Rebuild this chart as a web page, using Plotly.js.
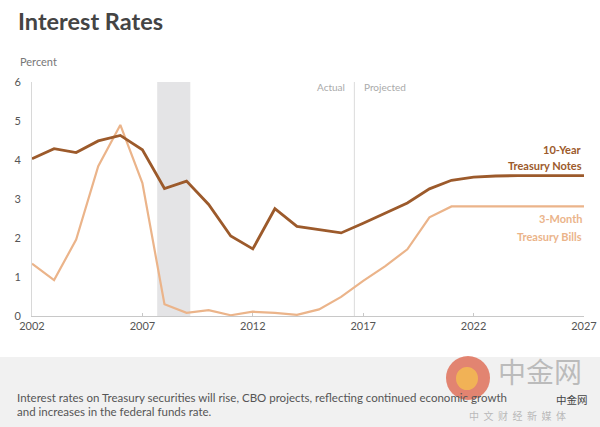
<!DOCTYPE html>
<html>
<head>
<meta charset="utf-8">
<script src="https://cdn.plot.ly/plotly-3.0.1.min.js"></script>
<style>
html,body{margin:0;padding:0;background:#fff;}
#chart{width:600px;height:427px;}
</style>
</head>
<body>
<div id="chart"></div>
<script>
// ---- data ----
var years = [2002,2003,2004,2005,2006,2007,2008,2009,2010,2011,2012,2013,2014,2015,2016,2017,2018,2019,2020,2021,2022,2023,2024,2025,2026,2027];
var tenYear = [4.03,4.29,4.19,4.49,4.63,4.26,3.27,3.46,2.86,2.05,1.72,2.75,2.30,2.21,2.13,2.38,2.63,2.90,3.26,3.48,3.56,3.59,3.60,3.60,3.60,3.60];
var threeMonth = [1.34,0.92,1.96,3.84,4.90,3.41,0.30,0.08,0.15,0.02,0.11,0.08,0.03,0.17,0.49,0.90,1.28,1.71,2.53,2.81,2.81,2.81,2.81,2.81,2.81,2.81];
var xTicks = [2002,2007,2012,2017,2022,2027];
var yTicks = [0,1,2,3,4,5,6];
var recession = [2007.67, 2009.17];
var actualEnd = 2016.6;

var FONT = 'Lato, "Open Sans", sans-serif';
var c10 = '#9c5a2b';
var c3m = '#ebb48a';

var traces = [
  {x: years, y: threeMonth, type: 'scatter', mode: 'lines',
   line: {color: c3m, width: 2.2}, hoverinfo: 'skip'},
  {x: years, y: tenYear, type: 'scatter', mode: 'lines',
   line: {color: c10, width: 2.8}, hoverinfo: 'skip'}
];

function py(p){ return (316 - p) / 234; }   // pixel y -> paper
function px(p){ return (p - 32) / 552; }    // pixel x -> paper

var CJK = '"Noto Sans CJK SC", sans-serif';
var NB = '&nbsp;&nbsp;';

var layout = {
  width: 600, height: 427,
  margin: {l: 32, r: 16, t: 82, b: 111},
  paper_bgcolor: '#ffffff', plot_bgcolor: 'rgba(0,0,0,0)',
  showlegend: false,
  font: {family: FONT, color: '#555', size: 11},
  xaxis: {
    range: [2002, 2027], tickvals: xTicks, ticktext: xTicks.map(String),
    showgrid: false, zeroline: false, showline: true, linecolor: '#c8c8c8', linewidth: 1,
    ticks: 'inside', ticklen: 3, tickcolor: '#c8c8c8',
    tickfont: {family: FONT, size: 11, color: '#555'}, fixedrange: true
  },
  yaxis: {
    range: [0, 6], tickvals: yTicks, ticktext: yTicks.map(String),
    showgrid: false, zeroline: false, showline: true, linecolor: '#d8d8d8', linewidth: 1,
    ticks: '', ticklabelstandoff: 8,
    tickfont: {family: FONT, size: 11, color: '#555'}, fixedrange: true
  },
  shapes: [
    {type: 'rect', xref: 'x', yref: 'y', x0: recession[0], x1: recession[1], y0: 0, y1: 6,
     fillcolor: '#e4e4e6', line: {width: 0}, layer: 'below'},
    {type: 'line', xref: 'x', yref: 'y', x0: actualEnd, x1: actualEnd, y0: 0, y1: 6,
     line: {color: '#dcdcdc', width: 1}, layer: 'below'},
    {type: 'rect', xref: 'paper', yref: 'paper', x0: px(0), x1: px(600), y0: py(357), y1: py(427),
     fillcolor: '#f1f1f1', line: {width: 0}, layer: 'below'},
    {type: 'circle', xref: 'paper', yref: 'paper', x0: px(446), x1: px(490), y0: py(400), y1: py(356),
     fillcolor: 'rgba(220,95,70,0.75)', line: {width: 0}, layer: 'above'},
    {type: 'circle', xref: 'paper', yref: 'paper', x0: px(456), x1: px(478), y0: py(390), y1: py(367),
     fillcolor: 'rgba(245,190,80,0.8)', line: {width: 0}, layer: 'above'}
  ],
  annotations: [
    {text: '<b>Interest Rates</b>', xref: 'paper', yref: 'paper', x: px(16), y: py(21),
     xanchor: 'left', yanchor: 'middle', showarrow: false,
     font: {family: FONT, size: 23.5, color: '#444'}},
    {text: 'Percent', xref: 'paper', yref: 'paper', x: px(18), y: py(61),
     xanchor: 'left', yanchor: 'middle', showarrow: false,
     font: {family: FONT, size: 11, color: '#777'}},
    {text: 'Actual', xref: 'paper', yref: 'paper', x: px(347), y: py(87),
     xanchor: 'right', yanchor: 'middle', showarrow: false,
     font: {family: FONT, size: 10, color: '#aaa'}},
    {text: 'Projected', xref: 'paper', yref: 'paper', x: px(362), y: py(87),
     xanchor: 'left', yanchor: 'middle', showarrow: false,
     font: {family: FONT, size: 10, color: '#aaa'}},
    {text: '<b>10-Year</b>', xref: 'paper', yref: 'paper', x: 1, y: py(149),
     xanchor: 'right', yanchor: 'middle', showarrow: false,
     font: {family: FONT, size: 11, color: c10}},
    {text: '<b>Treasury Notes</b>', xref: 'paper', yref: 'paper', x: 1, y: py(165),
     xanchor: 'right', yanchor: 'middle', showarrow: false,
     font: {family: FONT, size: 11, color: c10}},
    {text: '<b>3-Month</b>', xref: 'paper', yref: 'paper', x: 1, y: py(219),
     xanchor: 'right', yanchor: 'middle', showarrow: false,
     font: {family: FONT, size: 11, color: c3m}},
    {text: '<b>Treasury Bills</b>', xref: 'paper', yref: 'paper', x: 1, y: py(236),
     xanchor: 'right', yanchor: 'middle', showarrow: false,
     font: {family: FONT, size: 11, color: c3m}},
    {text: 'Interest rates on Treasury securities will rise, CBO projects, reflecting continued economic growth', xref: 'paper', yref: 'paper', x: px(15), y: py(397),
     xanchor: 'left', yanchor: 'middle', showarrow: false,
     font: {family: FONT, size: 11.5, color: '#555'}},
    {text: 'and increases in the federal funds rate.', xref: 'paper', yref: 'paper', x: px(15), y: py(411),
     xanchor: 'left', yanchor: 'middle', showarrow: false,
     font: {family: FONT, size: 11.5, color: '#555'}},
    {text: '中金网', xref: 'paper', yref: 'paper', x: px(540), y: py(371),
     xanchor: 'center', yanchor: 'middle', showarrow: false,
     font: {family: CJK, size: 28, color: 'rgba(170,170,170,0.75)'}},
    {text: '中金网', xref: 'paper', yref: 'paper', x: px(572), y: py(399),
     xanchor: 'center', yanchor: 'middle', showarrow: false,
     font: {family: CJK, size: 10.5, color: '#444'}},
    {text: ['中','文','财','经','新','媒','体'].join(NB), xref: 'paper', yref: 'paper', x: px(517), y: py(415),
     xanchor: 'center', yanchor: 'middle', showarrow: false,
     font: {family: CJK, size: 10, color: 'rgba(170,170,170,0.8)'}}
  ]
};

Plotly.newPlot('chart', traces, layout, {displayModeBar: false, staticPlot: true});
</script>
</body>
</html>
